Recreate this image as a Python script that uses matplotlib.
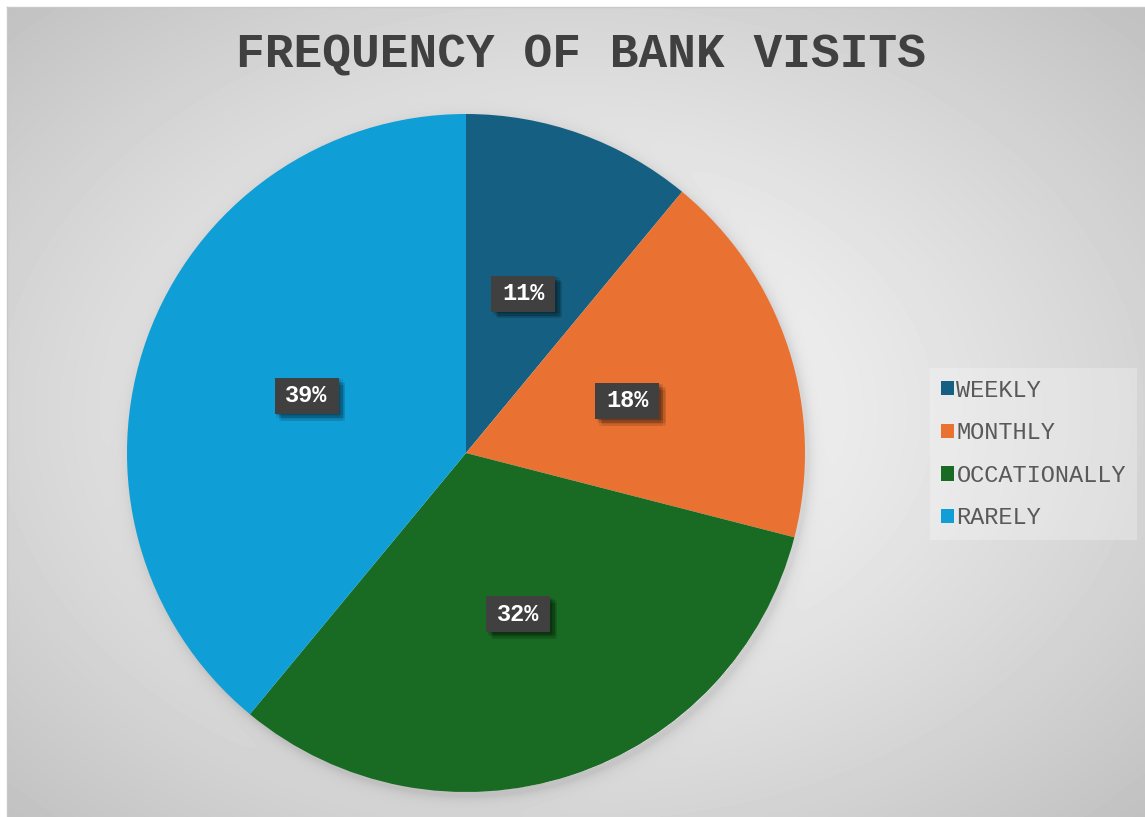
import matplotlib
matplotlib.use("Agg")
import matplotlib.pyplot as plt
import matplotlib.patheffects as pe
from matplotlib.patches import Rectangle
import numpy as np

categories = ["WEEKLY", "MONTHLY", "OCCATIONALLY", "RARELY"]
shares = [11, 18, 32, 39]
colors = ["#156082", "#E97132", "#196B24", "#0F9ED5"]

W, H = 1145, 817
mono = ["Liberation Mono", "DejaVu Sans Mono"]

fig = plt.figure(figsize=(W / 100, H / 100), dpi=100)
fig.patch.set_facecolor("white")

# chart area: radial grey gradient with a soft halo round the pie
bg = fig.add_axes([0, 0, 1, 1])
bg.set_xlim(0, W)
bg.set_ylim(H, 0)
bg.axis("off")
yy, xx = np.mgrid[7:H, 7:W].astype(float)
r = np.hypot((xx - 570) / W, (yy - 412) / H) / 0.72
shade = 249 - 58 * np.clip(r, 0, 1) ** 1.25
d = np.hypot(xx - 469, yy - 457) - 339
shade -= 22 * np.exp(-np.clip(d, 0, None) / 6) * (d > -5)
bg.imshow(shade / 255, cmap="gray", vmin=0, vmax=1, extent=(7, W, H, 7),
          interpolation="bilinear", aspect="auto")
bg.plot([6.5, 6.5], [6.5, H], color="#c8c8c8", lw=1)
bg.plot([6.5, W], [6.5, 6.5], color="#c8c8c8", lw=1)

fig.text(581 / W, 1 - 55 / H, "FREQUENCY OF BANK VISITS", family=mono,
         fontsize=34.5, fontweight="bold", color="#404040",
         ha="center", va="center")

R = 339
ax = fig.add_axes([(466 - R) / W, (H - 453 - R) / H, 2 * R / W, 2 * R / H])
wedges, texts, autotexts = ax.pie(
    shares, colors=colors, startangle=90, counterclock=False,
    autopct="%1.0f%%", pctdistance=0.5,
    wedgeprops=dict(linewidth=0),
    textprops=dict(family=mono, fontsize=17, fontweight="bold", color="white"))
ax.set_xlim(-1, 1)
ax.set_ylim(-1, 1)

# soft drop shadow under each label box
blur = [pe.SimplePatchShadow(offset=(dx, -dy), shadow_rgbFace="black", alpha=0.07)
        for dx, dy in [(1, 1), (2, 2), (3, 3), (4, 4), (5, 5), (3, 1), (1, 3), (5, 3), (3, 5)]]
bw, bh = 64 / R, 36 / R
for t in autotexts:
    x, y = t.get_position()
    box = Rectangle((x - bw / 2, y - bh / 2), bw, bh, facecolor="#404040",
                    edgecolor="none", zorder=3)
    box.set_path_effects(blur + [pe.Normal()])
    ax.add_patch(box)
    t.set_zorder(4)

leg = ax.legend(wedges, categories, loc="center left",
                bbox_to_anchor=(930 / W, 1 - 454 / H), bbox_transform=fig.transFigure,
                borderaxespad=0, borderpad=0.45, handlelength=0.55, handleheight=0.55,
                handletextpad=0.12, labelspacing=0.83, fancybox=False,
                facecolor="white", edgecolor="none", framealpha=0.25,
                prop=dict(family=mono, size=17), labelcolor="#595959")

fig.savefig("out.png", dpi=100)
